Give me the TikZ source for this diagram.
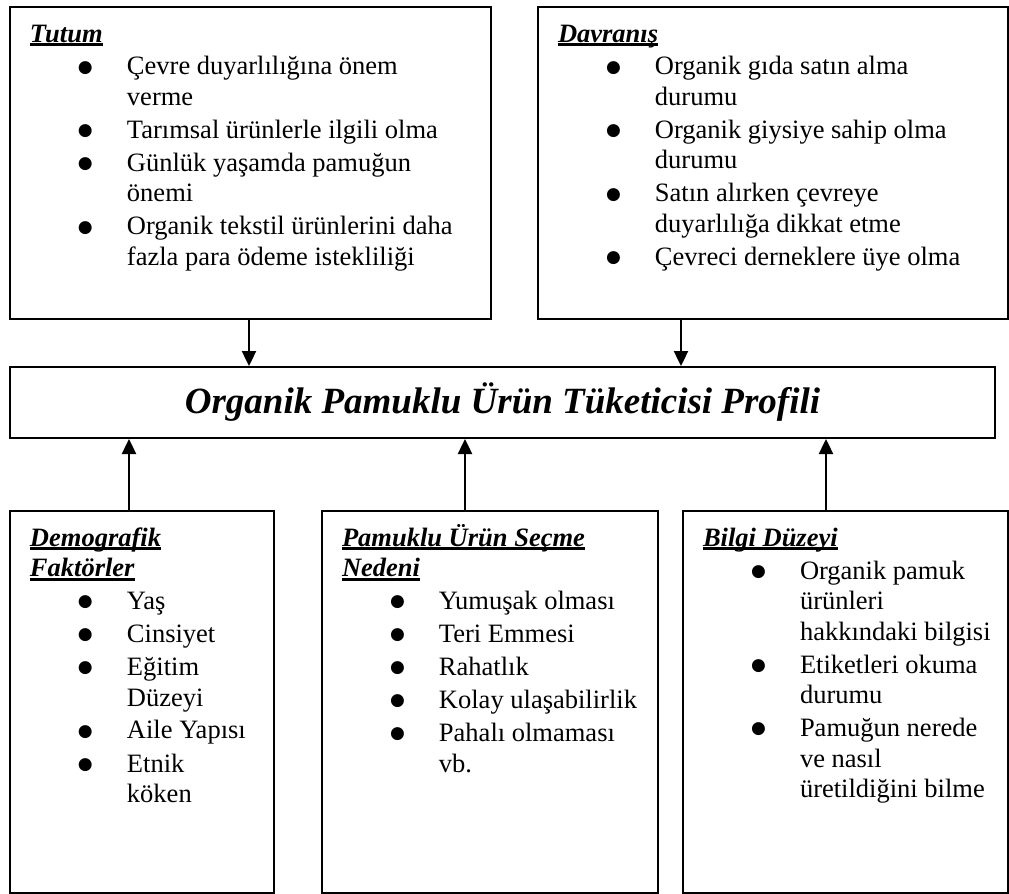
\documentclass[tikz,border=0pt]{standalone}
\usepackage{fontspec}
\setmainfont{Liberation Serif}
\newfontfamily\simge{DejaVu Sans}
\usetikzlibrary{arrows.meta}

% underlined heading word
\newcommand{\cizgili}[1]{\setbox0=\hbox{#1}\rlap{\rule[-2pt]{\wd0}{1.4pt}}\box0}
\newcommand{\baslik}[1]{\hspace*{10pt}\rule{0pt}{17.5pt}{\bfseries\itshape #1}\par}
% one bullet item
\newcommand{\nokta}{\raisebox{1.3pt}{\simge\fontsize{8.5}{8.5}\selectfont ●}}
\newcommand{\madde}[1]{{\leftskip=58.5pt\noindent\llap{\makebox[24.5pt][l]{\nokta}}#1\par}}
\newcommand{\govde}{\fontsize{13.25}{15.25}\selectfont\raggedright\parskip=1.25pt}

\begin{document}
\begin{tikzpicture}[x=0.5pt, y=-0.5pt,
    kutu/.style={draw, line width=1pt, inner sep=0pt, anchor=north west},
    ok/.style={-{Triangle[width=7pt,length=7.5pt]}, line width=1.2pt}]
    \useasboundingbox (0,0) rectangle (1009,894);

    % Top boxes
    \node[kutu] (tutum) at (9,6) {\begin{minipage}[t][156pt][t]{240.5pt}\govde
        \baslik{\cizgili{Tutum}}
        \madde{Çevre duyarlılığına önem\\verme}
        \madde{Tarımsal ürünlerle ilgili olma}
        \madde{Günlük yaşamda pamuğun\\önemi}
        \madde{Organik tekstil ürünlerini daha\\fazla para ödeme istekliliği}
    \end{minipage}};
    \node[kutu] (davranis) at (537,6) {\begin{minipage}[t][156pt][t]{235pt}\govde
        \baslik{\cizgili{Davranış}}
        \madde{Organik gıda satın alma\\durumu}
        \madde{Organik giysiye sahip olma\\durumu}
        \madde{Satın alırken çevreye\\duyarlılığa dikkat etme}
        \madde{Çevreci derneklere üye olma}
    \end{minipage}};

    % Middle box
    \node[kutu, minimum width=492.5pt, minimum height=35.5pt] (profil) at (9,366)
        {\fontsize{18.5}{22}\selectfont\bfseries\itshape Organik Pamuklu Ürün Tüketicisi Profili};

    % Bottom boxes
    \node[kutu] (demografik) at (9,510) {\begin{minipage}[t][191pt][t]{132pt}\govde
        \baslik{\cizgili{Demografik}\\\hspace*{10pt}\cizgili{Faktörler}}
        \madde{Yaş}
        \madde{Cinsiyet}
        \madde{Eğitim\\Düzeyi}
        \madde{Aile Yapısı}
        \madde{Etnik\\köken}
    \end{minipage}};
    \node[kutu] (secme) at (321,510) {\begin{minipage}[t][191pt][t]{168pt}\govde
        \baslik{\cizgili{Pamuklu Ürün Seçme}\\\hspace*{10pt}\cizgili{Nedeni}}
        \madde{Yumuşak olması}
        \madde{Teri Emmesi}
        \madde{Rahatlık}
        \madde{Kolay ulaşabilirlik}
        \madde{Pahalı olmaması\\vb.}
    \end{minipage}};
    \node[kutu] (bilgi) at (682,510) {\begin{minipage}[t][191pt][t]{162.5pt}\govde
        \baslik{\cizgili{Bilgi Düzeyi}}
        \madde{Organik pamuk\\ürünleri\\hakkındaki bilgisi}
        \madde{Etiketleri okuma\\durumu}
        \madde{Pamuğun nerede\\ve nasıl\\üretildiğini bilme}
    \end{minipage}};

    % Arrows
    \coordinate (k1) at (249,0);
    \coordinate (k2) at (681,0);
    \coordinate (k3) at (129,0);
    \coordinate (k4) at (465,0);
    \coordinate (k5) at (826,0);
    \draw[ok] (tutum.south -| k1) -- (profil.north -| k1);
    \draw[ok] (davranis.south -| k2) -- (profil.north -| k2);
    \draw[ok] (demografik.north -| k3) -- (profil.south -| k3);
    \draw[ok] (secme.north -| k4) -- (profil.south -| k4);
    \draw[ok] (bilgi.north -| k5) -- (profil.south -| k5);
\end{tikzpicture}
\end{document}
